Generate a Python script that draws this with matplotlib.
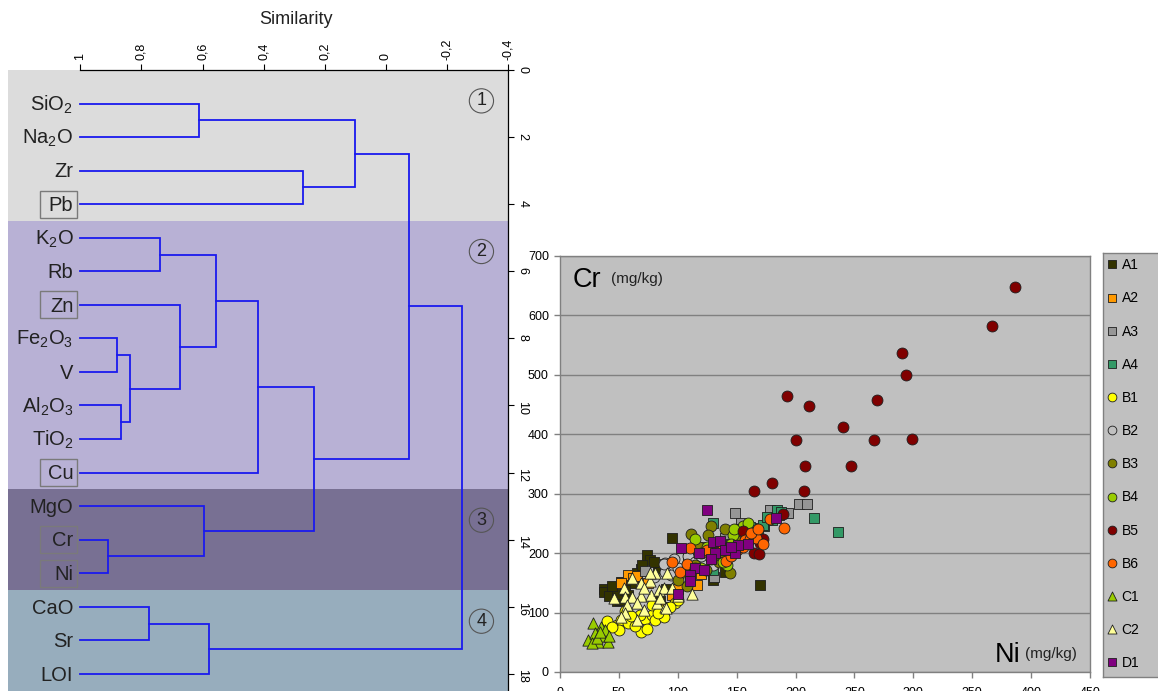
import matplotlib
matplotlib.use("Agg")
import matplotlib.pyplot as plt
from matplotlib.patches import Rectangle

plt.rcParams['font.family'] = ['Liberation Sans', 'DejaVu Sans']
plt.rcParams['mathtext.fontset'] = 'custom'
plt.rcParams['mathtext.rm'] = 'Liberation Sans'
plt.rcParams['mathtext.it'] = 'Liberation Sans:italic'
plt.rcParams['mathtext.bf'] = 'Liberation Sans:bold'
plt.rcParams['mathtext.default'] = 'regular'

# ---- dendrogram data ----
leaves = ['SiO$_2$', 'Na$_2$O', 'Zr', 'Pb', 'K$_2$O', 'Rb', 'Zn', 'Fe$_2$O$_3$', 'V',
          'Al$_2$O$_3$', 'TiO$_2$', 'Cu', 'MgO', 'Cr', 'Ni', 'CaO', 'Sr', 'LOI']
boxed = ['Pb', 'Zn', 'Cu', 'Cr', 'Ni']
# (node a, node b, similarity) ; nodes 0-17 = leaves, 18+ = merges in order
merges = [(0, 1, 0.61), (2, 3, 0.27), (18, 19, 0.10), (4, 5, 0.738), (7, 8, 0.881),
          (9, 10, 0.866), (22, 23, 0.838), (6, 24, 0.673), (21, 25, 0.555), (26, 11, 0.419),
          (13, 14, 0.91), (12, 28, 0.594), (27, 29, 0.236), (20, 30, -0.077), (15, 16, 0.775),
          (32, 17, 0.579), (31, 33, -0.249)]
groups = ['1', '2', '3', '4']
group_bands = [(0, 4.5), (4.5, 12.5), (12.5, 15.5), (15.5, 18.6)]
group_colors = ['#dcdcdc', '#b8b1d5', '#787093', '#97adbd']
group_label_y = [0.92, 5.41, 13.42, 16.43]
sim_ticks = [1, 0.8, 0.6, 0.4, 0.2, 0, -0.2, -0.4]
sim_labels = ['1', '0,8', '0,6', '0,4', '0,2', '0', '-0,2', '-0,4']

# ---- scatter data (Ni, Cr in mg/kg) ----
a1_ni = [95, 74, 76, 37, 37, 44, 48, 42, 51, 52, 64, 69, 48, 44, 65, 83, 98, 170, 140, 130, 60, 55, 70, 90, 85, 80, 58]
a1_cr = [226, 197, 189, 140, 135, 135, 119, 128, 121, 152, 160, 174, 132, 145, 167, 175, 125, 147, 168, 155, 150, 138, 180, 140, 120, 185, 130]
a2_ni = [58, 62, 65, 87, 90, 116, 110, 75, 52, 95, 120, 100, 88]
a2_cr = [164, 158, 161, 105, 110, 147, 155, 150, 150, 130, 165, 140, 102]
a3_ni = [203, 210, 194, 178, 149, 154, 72, 109, 89, 131, 153, 120, 140, 186]
a3_cr = [283, 282, 268, 273, 268, 251, 170, 195, 181, 160, 240, 210, 225, 265]
a4_ni = [216, 236, 184, 188, 173, 180, 172, 163, 161, 152, 130, 130, 176, 168, 145, 158]
a4_cr = [259, 236, 273, 270, 245, 255, 247, 243, 244, 241, 250, 172, 260, 235, 215, 228]
b1_ni = [40, 69, 48, 52, 58, 64, 72, 78, 86, 98, 100, 50, 44, 74, 78, 68, 93, 81, 55, 88, 60, 83]
b1_cr = [85, 68, 79, 88, 82, 77, 90, 96, 104, 116, 121, 71, 75, 73, 113, 96, 109, 88, 102, 93, 95, 100]
b2_ni = [89, 93, 89, 94, 109, 88, 100, 105, 115, 97, 120, 80, 130]
b2_cr = [183, 172, 169, 163, 195, 181, 175, 160, 185, 190, 195, 160, 180]
b3_ni = [128, 140, 111, 144, 140, 124, 108, 118, 132, 150, 115, 135, 100, 126]
b3_cr = [245, 240, 232, 166, 198, 172, 144, 210, 205, 220, 180, 185, 155, 230]
b4_ni = [115, 151, 147, 142, 155, 160, 125, 130, 138, 145, 158, 120, 105, 148]
b4_cr = [224, 239, 231, 180, 245, 250, 210, 195, 185, 215, 228, 175, 168, 240]
b5_ni = [386, 367, 290, 294, 193, 211, 269, 240, 200, 267, 299, 208, 247, 180, 165, 207, 189, 155, 172, 170, 165, 169]
b5_cr = [647, 582, 537, 500, 465, 448, 458, 413, 391, 391, 392, 346, 346, 318, 305, 304, 266, 237, 223, 217, 200, 198]
b6_ni = [95, 102, 108, 110, 120, 128, 141, 150, 157, 161, 166, 162, 172, 178, 190, 135, 145, 115, 125, 155, 168]
b6_cr = [185, 169, 181, 208, 200, 190, 186, 205, 222, 223, 225, 234, 215, 257, 243, 215, 195, 175, 205, 210, 240]
c1_ni = [28, 24, 32, 35, 40, 30, 41, 35, 27, 31, 38, 34, 42]
c1_cr = [82, 54, 51, 76, 62, 65, 51, 60, 48, 57, 71, 68, 60]
c2_ni = [61, 69, 76, 81, 91, 54, 55, 61, 69, 77, 84, 88, 95, 57, 65, 82, 89, 55, 71, 65, 52, 46, 76, 71, 85, 112, 90, 100]
c2_cr = [158, 150, 153, 166, 166, 141, 126, 127, 128, 130, 138, 141, 141, 113, 116, 116, 110, 99, 104, 88, 93, 124, 166, 141, 124, 132, 108, 128]
d1_ni = [125, 103, 118, 130, 136, 132, 149, 151, 115, 122, 110, 110, 100, 183, 128, 140, 160, 145]
d1_cr = [273, 209, 200, 218, 220, 200, 200, 213, 175, 172, 164, 153, 131, 259, 190, 205, 215, 210]

series_names = ['A1', 'A2', 'A3', 'A4', 'B1', 'B2', 'B3', 'B4', 'B5', 'B6', 'C1', 'C2', 'D1']
series_x = [a1_ni, a2_ni, a3_ni, a4_ni, b1_ni, b2_ni, b3_ni, b4_ni, b5_ni, b6_ni, c1_ni, c2_ni, d1_ni]
series_y = [a1_cr, a2_cr, a3_cr, a4_cr, b1_cr, b2_cr, b3_cr, b4_cr, b5_cr, b6_cr, c1_cr, c2_cr, d1_cr]
series_marker = ['s', 's', 's', 's', 'o', 'o', 'o', 'o', 'o', 'o', '^', '^', 's']
series_color = ['#333300', '#ff9900', '#969696', '#339966', '#ffff00', '#c0c0c0', '#808000',
                '#99cc00', '#800000', '#ff6600', '#99cc00', '#ffff99', '#800080']

W, H = 1158, 691
fig = plt.figure(figsize=(W / 100, H / 100), dpi=100)

# ================= dendrogram =================
axd = fig.add_axes([8 / W, 0, 500 / W, (H - 70) / H])
axd.set_xlim(1.2368, -0.4)
axd.set_ylim(18.51, 0)

for (y0, y1), c in zip(group_bands, group_colors):
    axd.axhspan(y0, y1, color=c, lw=0, zorder=0)

node_x = [1.0] * len(leaves)
node_y = [i + 1 for i in range(len(leaves))]
for a, b, s in merges:
    axd.plot([node_x[a], s, s, node_x[b]], [node_y[a], node_y[a], node_y[b], node_y[b]],
             color='#1a1aee', lw=1.3, zorder=3, solid_joinstyle='miter')
    node_x.append(s)
    node_y.append((node_y[a] + node_y[b]) / 2)

for i, lab in enumerate(leaves):
    y = i + 1
    axd.text(1.023, y + 0.2, lab, ha='right', va='baseline', fontsize=14.5, color='#222222', zorder=4)
    if lab in boxed:
        axd.add_patch(Rectangle((1.0099, y - 0.4), 0.1217, 0.8, fill=False,
                                edgecolor='#7a7a7a', lw=1.0, zorder=4))

for g, gy in zip(groups, group_label_y):
    axd.text(-0.313, gy, g, ha='center', va='center', fontsize=13, color='#222222', zorder=4,
             bbox=dict(boxstyle='circle,pad=0.2', fc='none', ec='#555555', lw=0.8))

for side in ['left', 'bottom']:
    axd.spines[side].set_visible(False)
axd.spines['top'].set_bounds(1, -0.4)
axd.spines['top'].set_linewidth(0.9)
axd.spines['right'].set_linewidth(0.9)
axd.xaxis.set_ticks_position('top')
axd.set_xticks(sim_ticks)
axd.set_xticklabels(sim_labels, rotation=90, fontsize=9)
axd.yaxis.set_ticks_position('right')
axd.set_yticks(range(0, 19, 2))
axd.set_yticklabels([str(v) for v in range(0, 19, 2)], rotation=-90, fontsize=9)
axd.tick_params(axis='x', direction='out', length=4, width=0.8, pad=3)
axd.tick_params(axis='y', direction='out', length=4, width=0.8, pad=2)
fig.text(296 / W, 1 - 20 / H, 'Similarity', ha='center', va='center', fontsize=13, color='#222222')

# ================= scatter =================
axs = fig.add_axes([560 / W, 19 / H, 530 / W, 416 / H])
axs.set_facecolor('#c0c0c0')
axs.set_xlim(0, 450)
axs.set_ylim(0, 700)
axs.set_xticks(range(0, 451, 50))
axs.set_yticks(range(0, 701, 100))
axs.yaxis.grid(True, color='#808080', lw=1)
axs.set_axisbelow(True)
for sp in axs.spines.values():
    sp.set_color('#808080')
    sp.set_linewidth(1)
axs.tick_params(axis='both', colors='#808080', labelcolor='black', labelsize=9,
                direction='out', length=4, width=1)
axs.tick_params(axis='x', pad=7)
axs.tick_params(axis='y', pad=4)

handles = []
for name, xs, ys, m, c in zip(series_names, series_x, series_y, series_marker, series_color):
    size = 52 if m == 's' else (62 if m == 'o' else 66)
    h = axs.scatter(xs, ys, s=size, marker=m, c=c, edgecolors='#1e1e1e', linewidths=0.6,
                    zorder=3, label=name)
    handles.append(h)

axs.text(11, 647, 'Cr', fontsize=19.5, va='baseline', color='black')
axs.text(43, 654, '(mg/kg)', fontsize=11, va='baseline', color='#222222')
axs.text(369, 17, 'Ni', fontsize=19.5, va='baseline', color='black')
axs.text(395, 23, '(mg/kg)', fontsize=11, va='baseline', color='#222222')

# legend box
axl = fig.add_axes([1103 / W, 14 / H, 70 / W, 424.3 / H])
axl.set_facecolor('#c0c0c0')
axl.set_xticks([])
axl.set_yticks([])
for sp in axl.spines.values():
    sp.set_color('#808080')
    sp.set_linewidth(1)
axl.legend(handles, series_names, loc='upper left', bbox_to_anchor=(0, 1), borderaxespad=0,
           frameon=False, fontsize=10, handlelength=0.5, handletextpad=0.45, borderpad=0.4,
           labelspacing=1.38, markerscale=0.8, scatterpoints=1, scatteryoffsets=[0.5])

fig.savefig('out.png', dpi=100)
